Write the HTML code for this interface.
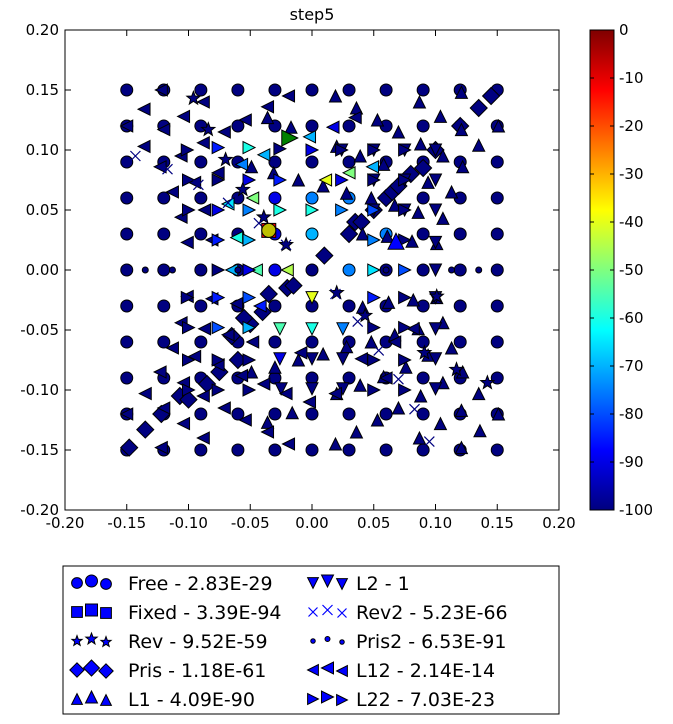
<!DOCTYPE html>
<html><head><meta charset="utf-8"><style>
html,body{margin:0;padding:0;background:#fff;}
svg{display:block;font-family:"DejaVu Sans","Liberation Sans",sans-serif;}
</style></head><body>
<svg id="fig" width="673" height="724" viewBox="0 0 673 724" xmlns="http://www.w3.org/2000/svg">
<defs>
<linearGradient id="jet" x1="0" y1="1" x2="0" y2="0">
<stop offset="0" stop-color="#00007f"/><stop offset="0.125" stop-color="#0000ff"/><stop offset="0.375" stop-color="#00ffff"/><stop offset="0.625" stop-color="#ffff00"/><stop offset="0.875" stop-color="#ff0000"/><stop offset="1" stop-color="#7f0000"/>
</linearGradient>
</defs>
<text x="312" y="20" text-anchor="middle" font-size="16">step5</text>
<g id="marks"></g>
<rect x="65" y="30" width="494" height="480" fill="none" stroke="#000" stroke-width="1"/>
<g id="axes"></g>
<rect x="590" y="30" width="24" height="480" fill="url(#jet)" stroke="#000"/>
<g id="cbar"></g>
<rect x="63" y="566" width="496" height="148" fill="#fff" stroke="#000"/>
<g id="legend"></g>
</svg>
<script>
const gridVals=[-0.15,-0.12,-0.09,-0.06,-0.03,0,0.03,0.06,0.09,0.12,0.15];
const xTicks=[-0.20,-0.15,-0.10,-0.05,0.00,0.05,0.10,0.15,0.20];
const yTicks=[-0.20,-0.15,-0.10,-0.05,0.00,0.05,0.10,0.15,0.20];
const cbarTicks=[0,-10,-20,-30,-40,-50,-60,-70,-80,-90,-100];
const circleColored=[[0,0.06,-75],[0.03,0.06,-75],[0.06,0.06,-80],[0,0.03,-70],[0.03,0.03,-70],[0.06,0.03,-75],[-0.03,0.06,-90],[-0.03,0.03,-90],[0.03,0,-75],[-0.03,0,-90]];
const lTriX=[-0.122,-0.136,-0.104,-0.088,-0.054,-0.036,-0.019,-0.071,-0.12,-0.15,-0.136,-0.088,-0.123,-0.106,-0.113,-0.095,-0.076,-0.087,-0.106,-0.101,-0.081,-0.039,-0.057,-0.068,-0.048,-0.002,-0.061,0.011,0.03,0.049,0.017,0.035,-0.101,-0.081,-0.061,-0.042,-0.106,-0.087,-0.068,-0.048,-0.113,-0.095,-0.076,-0.123,-0.104,-0.088,-0.135,-0.15,-0.12,-0.104,-0.071,-0.054,-0.088,-0.036,-0.019,-0.122,-0.057,-0.039,-0.021,-0.009,-0.002,0.019,0.04,0.06,0.067,0.082,-0.02,-0.045,-0.065];
const lTriY=[0.15,0.134,0.128,0.14,0.125,0.136,0.145,0.115,0.117,0.12,0.103,0.106,0.086,0.095,0.065,0.073,0.081,0.05,0.044,0.023,0.025,0.096,0.088,0.055,0.06,0.111,0.027,0.075,0.081,0.086,0.119,0.127,-0.022,-0.024,-0.028,-0.03,-0.044,-0.049,-0.054,-0.06,-0.065,-0.072,-0.079,-0.085,-0.094,-0.105,-0.103,-0.12,-0.115,-0.128,-0.115,-0.125,-0.14,-0.135,-0.145,-0.148,-0.088,-0.095,-0.103,-0.069,-0.11,-0.103,-0.074,-0.09,-0.06,-0.049,0,0,0];
const lTriV=[-100,-100,-100,-100,-100,-100,-100,-100,-100,-100,-100,-100,-100,-100,-100,-100,-100,-100,-100,-100,-100,-70,-75,-65,-50,-70,-60,-40,-50,-70,-90,-100,-100,-100,-100,-85,-100,-100,-100,-100,-100,-100,-100,-100,-100,-100,-100,-100,-100,-100,-100,-100,-100,-100,-100,-100,-100,-100,-100,-100,-100,-100,-100,-100,-100,-100,-45,-55,-70];
const rTriX=[-0.101,-0.076,-0.051,-0.026,-0.1,-0.076,-0.051,-0.026,-0.1,-0.076,-0.051,-0.026,-0.076,-0.051,0,0,0.024,0.05,0.075,0.024,0.05,0.075,0.024,0.05,0.075,0.05,0.075,-0.101,-0.076,-0.051,-0.1,-0.076,-0.051,-0.1,-0.076,-0.051,-0.1,-0.076,-0.051,0.05,0.075,0.05,0.075,0.05,0.075,0.05,0.075,-0.018,-0.076,-0.051,0.05,0.075];
const rTriY=[0.1,0.102,0.102,0.101,0.075,0.075,0.075,0.075,0.05,0.05,0.05,0.05,0.025,0.025,0.05,0.1,0.1,0.1,0.1,0.075,0.075,0.075,0.05,0.05,0.05,0.025,0.025,-0.023,-0.023,-0.023,-0.048,-0.048,-0.048,-0.075,-0.075,-0.075,-0.1,-0.1,-0.1,-0.023,-0.023,-0.048,-0.048,-0.075,-0.075,-0.1,-0.1,0.11,0,0,0,0];
const rTriV=[-100,-85,-60,-100,-100,-100,-90,-85,-100,-90,-75,-60,-85,-70,-60,-90,-100,-100,-100,-90,-100,-100,-75,-80,-100,-75,-100,-100,-85,-80,-100,-80,-70,-100,-100,-100,-100,-100,-100,-85,-100,-100,-100,-100,-100,-100,-100,-100,-100,-90,-65,-80,-100];
const dTriX=[-0.026,-0.026,0,0,0,-0.025,0,0.025,0.025,0.025,0.1,0.1,0.1,0.1,0.1,0.1,0.1,0.1,0.1,0.024,0.05,0.075,0.05,0.075,0.05,0.075];
const dTriY=[-0.049,-0.074,-0.023,-0.049,-0.074,-0.099,-0.099,-0.049,-0.074,-0.099,-0.023,-0.049,-0.074,-0.099,0.1,0.075,0.05,0.023,0,0.1,0.1,0.1,0.075,0.075,0.05,0.05];
const dTriV=[-55,-90,-40,-60,-100,-100,-100,-75,-100,-100,-100,-100,-100,-100,-100,-100,-100,-100,-100,-100,-100,-100,-100,-100,-100,-100];
const uTriX=[0.019,0.036,0.053,0.07,0.087,0.104,0.121,0.135,0.02,0.039,0.058,0.088,0.106,0.122,0.009,0.028,0.048,0.067,0.086,0.106,0.113,0.121,0.151,0.094,0.041,0.061,0.081,0.101,-0.049,-0.036,-0.017,-0.031,-0.011,0.041,0.062,0.082,0.101,0.028,0.048,0.067,0.086,0.106,0.113,0.009,0.076,0.094,0.122,0.039,0.02,0.058,0.088,0.106,0.135,0.07,0.053,0.036,0.019,0.104,0.121,0.136,0.087,0.121,0.151,-0.03,-0.011,-0.016,-0.036,-0.049];
const uTriY=[0.145,0.135,0.125,0.115,0.14,0.128,0.117,0.104,0.103,0.095,0.088,0.105,0.095,0.086,0.07,0.064,0.06,0.054,0.048,0.043,0.065,0.148,0.12,0.073,0.03,0.028,0.024,0.022,0.086,0.127,0.119,0.081,0.075,-0.031,-0.027,-0.025,-0.023,-0.064,-0.06,-0.054,-0.049,-0.044,-0.065,-0.07,-0.081,-0.071,-0.085,-0.096,-0.103,-0.089,-0.105,-0.094,-0.103,-0.115,-0.125,-0.135,-0.145,-0.128,-0.117,-0.134,-0.14,-0.148,-0.12,-0.081,-0.075,-0.119,-0.127,-0.085];
const diaX=[-0.148,-0.135,-0.122,-0.107,-0.1,-0.085,-0.075,-0.06,-0.065,-0.05,-0.055,-0.04,-0.035,-0.02,0.01,0.03,0.035,0.04,0.05,0.06,0.065,0.07,0.08,0.09,0.1,0.12,0.135,0.145,-0.015];
const diaY=[-0.148,-0.133,-0.12,-0.105,-0.108,-0.095,-0.085,-0.075,-0.055,-0.045,-0.04,-0.035,-0.02,-0.015,0.012,0.03,0.04,0.04,0.05,0.06,0.065,0.07,0.08,0.085,0.1,0.12,0.135,0.145,-0.013];
const starX=[-0.096,-0.084,-0.07,-0.056,-0.039,-0.021,0.02,0.043,0.091,0.101,0.117,0.142];
const starY=[0.143,0.117,0.092,0.067,0.044,0.021,-0.019,-0.038,-0.069,-0.022,-0.083,-0.094];
const xMarkX=[-0.143,-0.117,-0.092,-0.068,-0.043,-0.021,0.019,0.037,0.054,0.07,0.083,0.095];
const xMarkY=[0.095,0.084,0.071,0.056,0.039,0.021,-0.02,-0.043,-0.067,-0.091,-0.116,-0.143];
const dotX=[-0.135,-0.113,0.113,0.135,-0.06,0.06];
const dotY=[0,0,0,0,0,0];
const legendLabels=["Free - 2.83E-29","Fixed - 3.39E-94","Rev - 9.52E-59","Pris - 1.18E-61","L1 - 4.09E-90","L2 - 1","Rev2 - 5.23E-66","Pris2 - 6.53E-91","L12 - 2.14E-14","L22 - 7.03E-23"];

const NS="http://www.w3.org/2000/svg";
function sx(v){return 312+v*1235;}
function sy(v){return 270-v*1200;}
function cy(v){return 30+(-v)/100*480;}
function jet(v){const t=(v+100)/100;const c=x=>Math.round(255*Math.max(0,Math.min(1,1.5-Math.abs(4*t-x))));return `rgb(${c(3)},${c(2)},${c(1)})`;}
function mk(tag,attrs,parent){const e=document.createElementNS(NS,tag);for(const k in attrs)e.setAttribute(k,attrs[k]);parent.appendChild(e);return e;}
const marks=document.getElementById('marks');
function shape(type,x,y,s,fill,parent){
  let e;const st={fill:fill,stroke:'#000','stroke-width':1};
  if(type==='o'){e=mk('circle',Object.assign({cx:x,cy:y,r:s},st),parent);}
  else if(type==='s'){e=mk('rect',Object.assign({x:x-s,y:y-s,width:2*s,height:2*s},st),parent);}
  else if(type==='D'){e=mk('polygon',Object.assign({points:`${x},${y-s} ${x+s},${y} ${x},${y+s} ${x-s},${y}`},st),parent);}
  else if(type==='^'){e=mk('polygon',Object.assign({points:`${x},${y-s} ${x+s},${y+s} ${x-s},${y+s}`},st),parent);}
  else if(type==='v'){e=mk('polygon',Object.assign({points:`${x},${y+s} ${x+s},${y-s} ${x-s},${y-s}`},st),parent);}
  else if(type==='<'){e=mk('polygon',Object.assign({points:`${x-s},${y} ${x+s},${y-s} ${x+s},${y+s}`},st),parent);}
  else if(type==='>'){e=mk('polygon',Object.assign({points:`${x+s},${y} ${x-s},${y-s} ${x-s},${y+s}`},st),parent);}
  else if(type==='*'){let p=[];for(let i=0;i<10;i++){const r=i%2?s*0.42:s;const a=-Math.PI/2+i*Math.PI/5;p.push((x+r*Math.cos(a)).toFixed(1)+','+(y+r*Math.sin(a)).toFixed(1));}e=mk('polygon',Object.assign({points:p.join(' ')},st),parent);}
  else if(type==='x'){e=mk('path',{d:`M${x-s},${y-s}L${x+s},${y+s}M${x-s},${y+s}L${x+s},${y-s}`,stroke:fill,'stroke-width':1.2,fill:'none'},parent);}
  return e;
}
gridVals.forEach(gx=>gridVals.forEach(gy=>{
  let v=-100;circleColored.forEach(c=>{if(Math.abs(c[0]-gx)<1e-6&&Math.abs(c[1]-gy)<1e-6)v=c[2];});
  const e=shape('o',sx(gx),sy(gy),6,jet(v),marks);
  
  
}));
function series(type,xs,ys,vs,size,name){
  xs.forEach((x,i)=>{
    const v=vs?vs[i]:-100;
    const e=shape(type,sx(x),sy(ys[i]),size,type==='x'?'#00007f':jet(v),marks);
    
    
  });
}
series('D',diaX,diaY,null,8.5,'pris-point');
series('^',uTriX,uTriY,null,6,'l1-point');
series('v',dTriX,dTriY,dTriV,6,'l2-point');
series('<',lTriX,lTriY,lTriV,6,'l12-point');
series('>',rTriX,rTriY,rTriV,6,'l22-point');
series('*',starX,starY,null,7,'rev-point');
series('x',xMarkX,xMarkY,null,5,'rev2-point');
series('o',dotX,dotY,null,3,'pris2-point');
let sp=shape('s',sx(-0.035),sy(0.033),7,'#ff0000',marks);


sp=shape('o',sx(-0.035),sy(0.033),7,'#bfbf00',marks);


sp=shape('>',sx(-0.018),sy(0.11),8,'#008000',marks);


sp=shape('^',sx(0.068),sy(0.024),8,'#0000ff',marks);



const axes=document.getElementById('axes');
xTicks.forEach(t=>{
  const x=sx(t);
  mk('line',{x1:x,y1:510,x2:x,y2:504,stroke:'#000'},axes);
  mk('line',{x1:x,y1:30,x2:x,y2:36,stroke:'#000'},axes);
  const e=mk('text',{x:x,y:528,'text-anchor':'middle','font-size':15},axes);
  e.textContent=t.toFixed(2);
  
  
});
yTicks.forEach(t=>{
  const y=sy(t);
  mk('line',{x1:65,y1:y,x2:71,y2:y,stroke:'#000'},axes);
  mk('line',{x1:559,y1:y,x2:553,y2:y,stroke:'#000'},axes);
  const e=mk('text',{x:59,y:y+5,'text-anchor':'end','font-size':15},axes);
  e.textContent=t.toFixed(2);
  
  
});
const cb=document.getElementById('cbar');
cbarTicks.forEach(t=>{
  const y=cy(t);
  mk('line',{x1:590,y1:y,x2:594,y2:y,stroke:'#000'},cb);
  mk('line',{x1:614,y1:y,x2:610,y2:y,stroke:'#000'},cb);
  const e=mk('text',{x:619,y:y+5,'font-size':15},cb);
  e.textContent=String(t);
  
  
});
const lg=document.getElementById('legend');
const legTypes=['o','s','*','D','^','v','x','o','<','>'];
const legSizes=[6,6,6,8,6,6,5,2.5,6,6];
legendLabels.forEach((lab,i)=>{
  const col=Math.floor(i/5),row=i%5;
  const y=583+row*29;
  const mx=col?313:77, tx=col?356:128;
  [0,1,2].forEach(k=>{
    const e=shape(legTypes[i],mx+k*14.5,y+(k===1?-2:k===2?1:0),legSizes[i]*(k===1?1:0.9),'#0000ff',lg);
    
    
  });
  const t=mk('text',{x:tx,y:y+7,'font-size':19},lg);
  t.textContent=lab;
  
  
});
</script>
</body></html>
